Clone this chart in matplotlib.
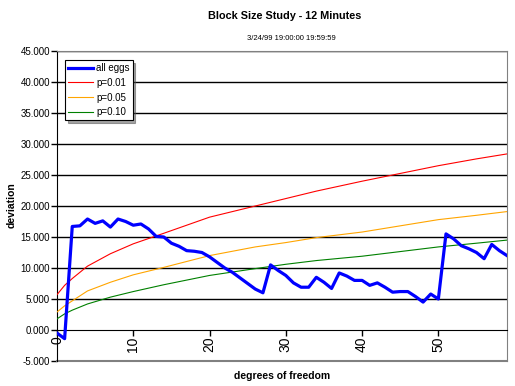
import numpy as np
import matplotlib.pyplot as plt

plt.rcParams['font.family'] = ['Liberation Sans', 'DejaVu Sans']

# dados
dof = list(range(60))
all_eggs = [-0.5, -1.4, 16.7, 16.8, 17.9, 17.2, 17.6, 16.6, 17.9, 17.5,
            16.9, 17.1, 16.3, 15.1, 15.0, 14.0, 13.5, 12.8, 12.7, 12.5,
            11.8, 10.9, 10.0, 9.3, 8.4, 7.5, 6.6, 6.0, 10.5, 9.6,
            8.8, 7.6, 6.9, 6.9, 8.5, 7.7, 6.7, 9.2, 8.7, 8.0,
            8.0, 7.2, 7.6, 6.9, 6.1, 6.2, 6.2, 5.4, 4.5, 5.8,
            5.0, 15.5, 14.7, 13.6, 13.1, 12.5, 11.5, 13.8, 12.8, 12.0]

curve_x = [0, 1, 2, 4, 7, 10, 14, 20, 26, 30, 34, 40, 44, 50, 55, 59]
p01 = [5.7, 7.2, 8.3, 10.3, 12.3, 13.9, 15.6, 18.2, 20.0, 21.2, 22.4, 24.0, 25.0, 26.5, 27.6, 28.4]
p05 = [2.9, 3.9, 4.7, 6.3, 7.7, 8.9, 10.1, 12.0, 13.4, 14.1, 14.9, 15.8, 16.6, 17.8, 18.5, 19.1]
p10 = [1.8, 2.6, 3.2, 4.2, 5.3, 6.2, 7.3, 8.8, 9.9, 10.6, 11.2, 11.9, 12.5, 13.4, 14.0, 14.5]

fig = plt.figure(figsize=(5.15, 3.86), dpi=100)
ax = fig.add_axes([57 / 515, 1 - 361 / 386, 450 / 515, 310 / 386])

yt = np.arange(-5, 46, 5)
for v in yt[2:]:
    ax.axhline(v, color='black', lw=1.0, zorder=1)

ax.plot(dof, all_eggs, color='#0000FF', lw=2.3, label='all eggs', zorder=4)
ax.plot(curve_x, p01, color='#FF0000', lw=0.8, label='p=0.01', zorder=3)
ax.plot(curve_x, p05, color='#FFA500', lw=0.8, label='p=0.05', zorder=3)
ax.plot(curve_x, p10, color='#008000', lw=0.8, label='p=0.10', zorder=3)

ax.set_xlim(0, 59)
ax.set_ylim(-5, 45)
ax.set_yticks(yt)
ax.set_yticklabels(['%.3f' % v for v in yt], fontsize=7)
ax.set_xticks(range(0, 60, 10))
ax.set_xticklabels([str(v) for v in range(0, 60, 10)], fontsize=6.5)

ax.spines['bottom'].set_position(('data', 0))
ax.spines['bottom'].set_color('black')
ax.spines['left'].set_color('black')
ax.spines['top'].set_color('gray')
ax.spines['right'].set_color('gray')
ax.axhline(-5, color='gray', lw=1.5, clip_on=False, zorder=2)
ax.tick_params(axis='both', direction='out', length=4, width=1, pad=1)
ax.tick_params(axis='x', labelrotation=90, pad=0.5)

fig.text(285 / 515, 1 - 16 / 386, 'Block Size Study - 12 Minutes', ha='center', va='center',
         fontsize=7.8, fontweight='bold')
fig.text(291 / 515, 1 - 38 / 386, '3/24/99 19:00:00 19:59:59', ha='center', va='center',
         fontsize=5.5)
fig.text(12 / 515, 1 - 205 / 386, 'deviation', rotation=90, ha='center', va='center',
         fontsize=7.5, fontweight='bold')
fig.text(282 / 515, 1 - 376 / 386, 'degrees of freedom', ha='center', va='center',
         fontsize=7.5, fontweight='bold')

leg = ax.legend(loc='upper left', bbox_to_anchor=(8 / 450, 1 - 9 / 310), fontsize=7,
                frameon=True, fancybox=False, shadow=True, handlelength=2.6,
                borderpad=0.3, labelspacing=0.5, handletextpad=0.3, borderaxespad=0)
leg.get_frame().set_edgecolor('black')
leg.get_frame().set_linewidth(0.8)

fig.savefig('out.png', dpi=100)
